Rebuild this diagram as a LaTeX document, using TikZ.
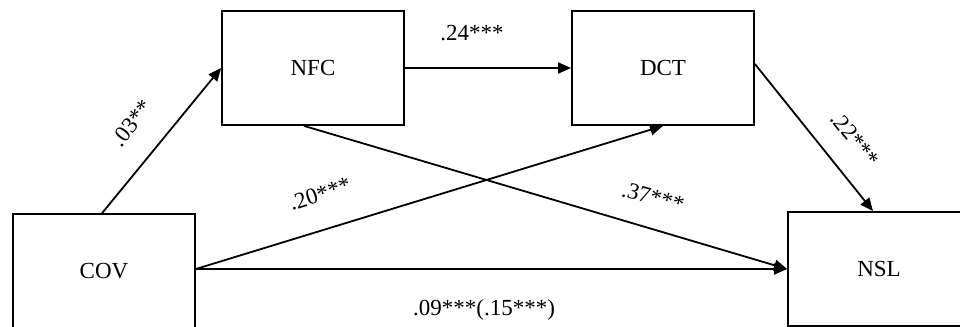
\documentclass[tikz,border=0pt]{standalone}
\usepackage{fontspec}
\setmainfont{Liberation Serif}
\usetikzlibrary{arrows.meta,calc}
\begin{document}
\begin{tikzpicture}[x=0.5pt,y=-0.5pt,
  box/.style={draw,line width=0.9pt,minimum width=91pt,minimum height=57pt,inner sep=0pt,font=\fontsize{11.5}{14}\selectfont},
  conn/.style={line width=0.9pt,-{Triangle[length=6.5pt,width=5.5pt]}},
  lab/.style={inner sep=0pt,font=\fontsize{11.5}{14}\selectfont}]
\useasboundingbox (0,0) rectangle (960,327);
\clip (0,0) rectangle (960,327);
\node[box] (nfc) at (313,68) {NFC};
\node[box] (dct) at (663,68) {DCT};
\node[box] (cov) at (104,271) {COV};
\node[box] (nsl) at (879,269) {NSL};
\draw[conn] ($(cov.north west)+(90,0)$) -- (nfc.west);
\draw[conn] (nfc.east) -- (dct.west);
\draw[conn] (cov.east |- nsl.west) -- (dct.south);
\draw[conn] (cov.east |- nsl.west) -- (nsl.west);
\draw[conn] ($(nfc.south)+(-9,0)$) -- (nsl.west);
\draw[conn] ($(dct.east)+(0,-4)$) -- ($(nsl.north)+(-6,0)$);
\node[lab,rotate=52] (l03) at (132,123) {.03**};
\node[lab] (l24) at (472,33) {.24***};
\node[lab,rotate=18] (l20) at (320,194) {.20***};
\node[lab,rotate=-15] (l37) at (653,197) {.37***};
\node[lab,rotate=-51] (l22) at (855,139) {.22***};
\node[lab] (l09) at (484,310) {.09***(.15***)};
\end{tikzpicture}
\end{document}
